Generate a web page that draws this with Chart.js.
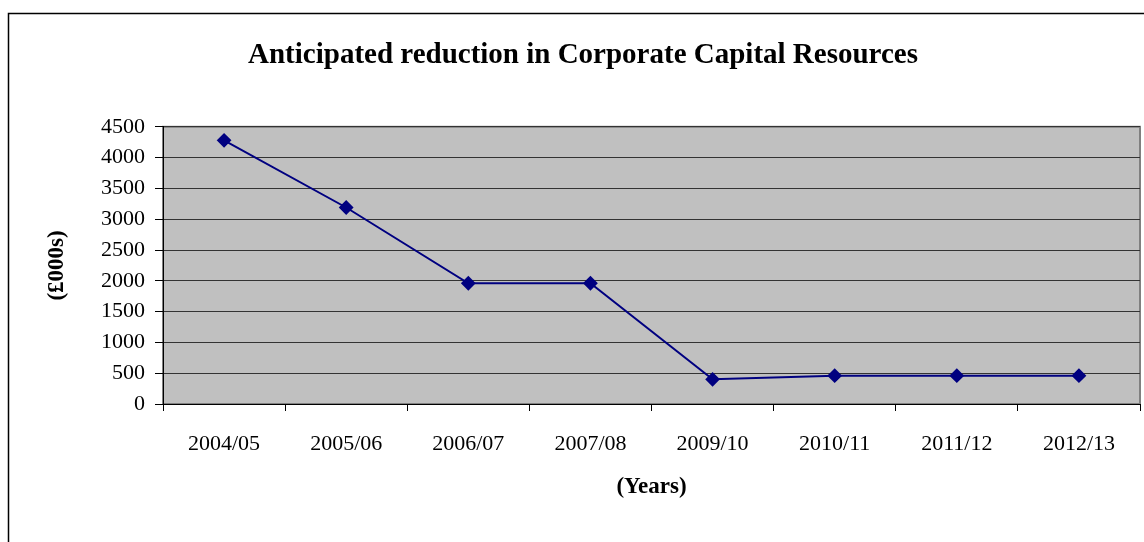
<!DOCTYPE html>
<html>
<head>
<meta charset="utf-8">
<script src="https://cdn.jsdelivr.net/npm/chart.js@4"></script>
<style>
  html, body { margin: 0; padding: 0; background: #fff; overflow: hidden; }
  #wrap { width: 1144px; height: 542px; position: relative; overflow: hidden; }
</style>
</head>
<body>
<div id="wrap"><canvas id="capitalChart" width="1148" height="542"></canvas></div>
<script>
const years = ["2004/05", "2005/06", "2006/07", "2007/08", "2009/10", "2010/11", "2011/12", "2012/13"];
const capitalResources = [4280, 3190, 1960, 1960, 400, 460, 460, 460];
const yTicks = [0, 500, 1000, 1500, 2000, 2500, 3000, 3500, 4000, 4500];

const serif = "'Liberation Serif', 'Times New Roman', serif";

// grey plot area + outer frame like the original spreadsheet chart
const plotBackground = {
  id: "plotBackground",
  beforeDraw(chart) {
    const c = chart.ctx;
    const a = chart.chartArea;
    c.save();
    c.fillStyle = "#fff";
    c.fillRect(0, 0, chart.width, chart.height);
    c.fillStyle = "#C0C0C0";
    c.fillRect(a.left, a.top, a.right - a.left, a.bottom - a.top);
    c.strokeStyle = "#808080";
    c.lineWidth = 2;
    c.strokeRect(a.left, a.top, a.right - a.left, a.bottom - a.top);
    // frame (only top and left visible)
    c.strokeStyle = "#000";
    c.lineWidth = 1.5;
    c.beginPath();
    c.moveTo(8.5, chart.height);
    c.lineTo(8.5, 13.5);
    c.lineTo(chart.width, 13.5);
    c.stroke();
    c.restore();
  },
};

const ctx = document.getElementById("capitalChart").getContext("2d");
const capitalChart = new Chart(ctx, {
  type: "line",
  data: {
    labels: years,
    datasets: [{
      data: capitalResources,
      borderColor: "#000080",
      backgroundColor: "#000080",
      borderWidth: 2,
      pointStyle: "rectRot",
      pointRadius: 6,
      pointHoverRadius: 6,
      tension: 0,
    }],
  },
  options: {
    responsive: false,
    animation: false,
    devicePixelRatio: 1,
    layout: { padding: { left: 18, right: 0, top: 0, bottom: 37 } },
    plugins: {
      legend: { display: false },
      tooltip: { enabled: false },
      title: {
        display: true,
        text: "Anticipated reduction in Corporate Capital Resources",
        color: "#000",
        font: { family: serif, size: 29, weight: "bold" },
        padding: { top: 38, bottom: 54 },
      },
    },
    scales: {
      x: {
        offset: true,
        grid: { offset: true, drawOnChartArea: false, drawTicks: true, tickLength: 7, color: "#000" },
        border: { color: "#000", width: 1 },
        ticks: { color: "#000", font: { family: serif, size: 22 }, padding: 20, maxRotation: 0 },
        title: {
          display: true,
          text: "(Years)",
          color: "#000",
          font: { family: serif, size: 23, weight: "bold" },
          padding: { top: 12 },
        },
        afterFit(scale) {
          scale.height = 101;
          scale.paddingLeft = 0;
          scale.paddingRight = 0;
        },
      },
      y: {
        min: 0,
        max: 4500,
        afterBuildTicks(scale) { scale.ticks = yTicks.map(v => ({ value: v })); },
        grid: { color: "#333", lineWidth: 1, drawTicks: true, tickLength: 8, tickColor: "#000" },
        border: { color: "#000", width: 1 },
        ticks: {
          color: "#000",
          font: { family: serif, size: 22 },
          padding: 10,
          callback: (v) => String(v),
        },
        title: {
          display: true,
          text: "(£000s)",
          color: "#000",
          font: { family: serif, size: 23, weight: "bold" },
          padding: { top: 25, bottom: 14 },
        },
        afterFit(scale) { scale.width = 145; },
      },
    },
  },
  plugins: [plotBackground],
});
</script>
</body>
</html>
